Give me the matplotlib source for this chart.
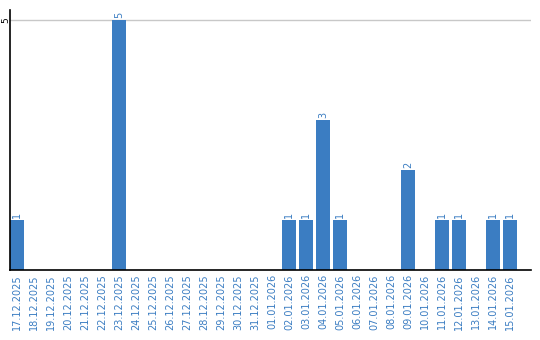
import matplotlib.pyplot as plt

dates = ["17.12.2025", "18.12.2025", "19.12.2025", "20.12.2025", "21.12.2025",
         "22.12.2025", "23.12.2025", "24.12.2025", "25.12.2025", "26.12.2025",
         "27.12.2025", "28.12.2025", "29.12.2025", "30.12.2025", "31.12.2025",
         "01.01.2026", "02.01.2026", "03.01.2026", "04.01.2026", "05.01.2026",
         "06.01.2026", "07.01.2026", "08.01.2026", "09.01.2026", "10.01.2026",
         "11.01.2026", "12.01.2026", "13.01.2026", "14.01.2026", "15.01.2026"]
counts = [1, 0, 0, 0, 0, 0, 5, 0, 0, 0, 0, 0, 0, 0, 0,
          0, 1, 1, 3, 1, 0, 0, 0, 2, 0, 1, 1, 0, 1, 1]

blue = "#3b7dc2"

fig = plt.figure(figsize=(5.4, 3.4), dpi=100)
ax = fig.add_axes([10 / 540, 70 / 340, 521 / 540, 260 / 340])

x = list(range(len(dates)))
ax.bar(x, counts, width=14 / 17, color=blue, zorder=2)

for xi, c in zip(x, counts):
    if c > 0:
        ax.text(xi, c + 0.04, str(c), rotation=90, ha="center", va="bottom",
                fontsize=7, color=blue)

ax.set_xlim(-7 / 17, 30.24)
ax.set_ylim(0, 5.2)
ax.set_yticks([5])
ax.set_yticklabels(["5"], rotation=90, va="center", fontsize=6.5)
ax.yaxis.grid(True, color="#c8c8c8", linewidth=1, zorder=0)
ax.tick_params(axis="y", length=0, pad=0)

ax.set_xticks(x)
ax.set_xticklabels(dates, rotation=90, fontsize=7, color=blue)
ax.tick_params(axis="x", length=0, pad=3)

for s in ["top", "right"]:
    ax.spines[s].set_visible(False)
ax.spines["left"].set_linewidth(1.2)
ax.spines["bottom"].set_linewidth(1.2)

plt.savefig("out.png", dpi=100)
